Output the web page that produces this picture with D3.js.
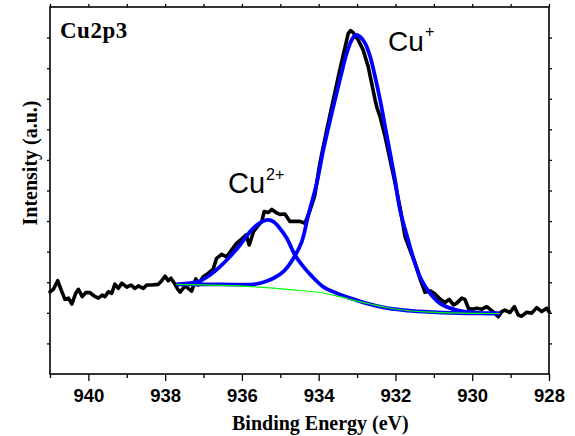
<!DOCTYPE html>
<html><head><meta charset="utf-8">
<script src="https://cdnjs.cloudflare.com/ajax/libs/d3/7.8.5/d3.min.js"></script>
<style>body{margin:0;background:#fff}svg{display:block}</style>
</head><body>
<svg id="c" width="575" height="436"></svg>
<script>
// Binding energy (eV) and intensity (a.u.)
const expEnergy = [941.00,940.91,940.80,940.71,940.61,940.52,940.43,940.33,940.26,940.16,940.07,939.96,939.85,939.74,939.64,939.57,939.48,939.39,939.31,939.22,939.13,939.00,938.89,938.79,938.70,938.57,938.48,938.35,938.18,938.09,938.00,937.92,937.85,937.76,937.67,937.61,937.48,937.40,937.31,937.20,937.14,937.01,936.88,936.75,936.66,936.53,936.40,936.27,936.14,936.01,935.89,935.81,935.70,935.60,935.48,935.42,935.31,935.22,935.11,935.01,934.88,934.75,934.62,934.49,934.36,934.27,934.18,934.10,933.97,933.79,933.62,933.45,933.31,933.23,933.17,933.10,932.97,932.84,932.71,932.62,932.53,932.48,932.40,932.27,932.14,932.01,931.88,931.75,931.62,931.49,931.36,931.23,931.10,930.97,930.84,930.71,930.60,930.49,930.41,930.27,930.19,930.10,930.01,929.88,929.75,929.62,929.54,929.41,929.32,929.23,929.15,929.02,928.90,928.80,928.71,928.58,928.45,928.32,928.19,928.06,928.00];
const expIntensity = [269,277,305,275,244,248,229,264,277,253,266,266,255,248,258,253,269,264,294,280,297,284,291,280,288,280,291,291,293,305,320,305,313,297,277,268,288,280,271,311,291,318,329,343,378,391,383,405,427,441,455,422,465,482,500,531,528,538,528,522,523,499,499,499,493,520,553,585,689,798,896,994,1070,1114,1123,1116,1092,1059,1005,951,896,870,841,776,700,624,543,449,405,363,311,267,272,262,245,234,244,226,231,248,244,215,212,215,212,220,212,198,187,204,209,201,220,193,189,202,199,217,204,215,204];

const cu2Energy = [937.70,937.35,937.09,936.83,936.57,936.31,936.05,935.79,935.61,935.44,935.31,935.18,935.01,934.83,934.62,934.40,934.18,933.88,933.53,933.18,932.75,932.32,931.80,931.27,930.32,929.28];
const cu2Intensity = [293,297,304,324,351,384,422,465,487,500,504,498,476,444,389,351,320,285,264,248,231,218,209,204,199,198];

const cu1Energy = [937.70,936.57,935.70,935.44,935.18,934.92,934.66,934.44,934.27,934.05,933.88,933.66,933.45,933.27,933.14,933.03,932.92,932.79,932.66,932.53,932.40,932.27,932.14,932.01,931.88,931.67,931.49,931.32,931.10,930.84,930.41,929.88,929.28];
const cu1Intensity = [293,293,293,300,313,335,378,433,520,624,732,852,961,1049,1092,1109,1103,1081,1038,972,896,809,722,634,536,438,362,307,264,231,209,200,198];

const bgEnergy = [937.70,936.31,935.53,934.75,933.89,933.45,933.05,932.66,932.27,931.88,931.23,930.32,929.28];
const bgIntensity = [293,289,284,276,265,253,240,229,218,210,203,199,198];

const xMajorTicks = [940,938,936,934,932,930,928];
const xMinorTicks = [941,939,937,935,933,931,929];
const xAllTicks = [941,940,939,938,937,936,935,934,933,932,931,930,929,928];
const yTicks = [100,200,300,400,500,600,700,800,900,1000,1100];

const svg = d3.select("#c");
const L=50,R=549,T=7,B=374;
const x = d3.scaleLinear().domain([941,928]).range([L,R]);
const y = d3.scaleLinear().domain([0,1200]).range([B,T]);

const serif = "'Liberation Serif','Times New Roman',serif";
const sans = "'Liberation Sans',Arial,sans-serif";

function pts(E,I){return E.map((e,i)=>[e,I[i]]);}
const lineLin = d3.line().x(d=>x(d[0])).y(d=>y(d[1]));
const lineSm = d3.line().x(d=>x(d[0])).y(d=>y(d[1])).curve(d3.curveCatmullRom.alpha(0.5));

const plot = svg.append("g");
plot.append("path").attr("d",lineLin(pts(expEnergy,expIntensity)))
  .attr("fill","none").attr("stroke","#000").attr("stroke-width",3.6).attr("stroke-linejoin","round").attr("stroke-linecap","round");
plot.append("path").attr("d",lineSm(pts(cu2Energy,cu2Intensity)))
  .attr("fill","none").attr("stroke","#0000ff").attr("stroke-width",3.8);
plot.append("path").attr("d",lineSm(pts(cu1Energy,cu1Intensity)))
  .attr("fill","none").attr("stroke","#0000ff").attr("stroke-width",3.8);
plot.append("path").attr("d",lineSm(pts(bgEnergy,bgIntensity)))
  .attr("fill","none").attr("stroke","#00ff00").attr("stroke-width",1.1);

// axes
function styleAxis(g){g.select(".domain").remove();g.selectAll("line").attr("stroke","#000").attr("stroke-width",1.3);}
svg.append("g").attr("transform",`translate(0,${B})`)
  .call(d3.axisBottom(x).tickValues(xMajorTicks).tickFormat(d3.format("d")).tickSize(7).tickPadding(8))
  .call(styleAxis)
  .call(g=>g.selectAll("text").attr("font-family",sans).attr("font-weight","bold").attr("font-size",18.5).attr("fill","#000"));
svg.append("g").attr("transform",`translate(0,${B})`)
  .call(d3.axisBottom(x).tickValues(xMinorTicks).tickFormat("").tickSize(4)).call(styleAxis);
svg.append("g").attr("transform",`translate(0,${T})`)
  .call(d3.axisTop(x).tickValues(xAllTicks).tickFormat("").tickSize(3)).call(styleAxis);
svg.append("g").attr("transform",`translate(${L},0)`)
  .call(d3.axisLeft(y).tickValues(yTicks).tickFormat("").tickSize(3)).call(styleAxis);
svg.append("g").attr("transform",`translate(${R},0)`)
  .call(d3.axisRight(y).tickValues(yTicks).tickFormat("").tickSize(3)).call(styleAxis);

svg.append("rect").attr("x",L).attr("y",T).attr("width",R-L).attr("height",B-T)
  .attr("fill","none").attr("stroke","#000").attr("stroke-width",1.6);

// labels
svg.append("text").attr("x",232).attr("y",430).attr("font-family",serif).attr("font-weight","bold")
  .attr("font-size",20).text("Binding Energy (eV)");
svg.append("text").attr("transform","translate(37,163) rotate(-90)").attr("text-anchor","middle")
  .attr("font-family",serif).attr("font-weight","bold").attr("font-size",20).text("Intensity (a.u.)");
svg.append("text").attr("x",60).attr("y",38).attr("font-family",serif).attr("font-weight","bold")
  .attr("font-size",23).attr("letter-spacing",0.5).text("Cu2p3");

svg.append("text").attr("x",388).attr("y",51).attr("font-family",sans).attr("font-size",28).text("Cu");
svg.append("text").attr("x",425).attr("y",37).attr("font-family",sans).attr("font-size",16).text("+");
svg.append("text").attr("x",228).attr("y",193).attr("font-family",sans).attr("font-size",29).text("Cu");
svg.append("text").attr("x",266).attr("y",180).attr("font-family",sans).attr("font-size",16).text("2+");
</script>
</body></html>
